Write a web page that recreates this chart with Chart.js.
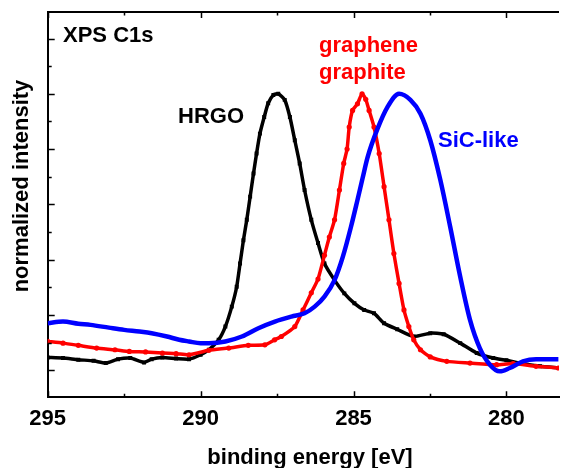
<!DOCTYPE html>
<html>
<head>
<meta charset="utf-8">
<script src="https://cdn.jsdelivr.net/npm/chart.js@4"></script>
<style>
  html, body { margin: 0; padding: 0; background: #fff; }
  #wrap { width: 563px; height: 468px; }
</style>
</head>
<body>
<div id="wrap"><canvas id="chart" width="563" height="468"></canvas></div>
<script>
/**
 * Data (binding energy in eV, intensity normalised so the peaks sit at 5).
 */
const hrgoEnergy = [295, 294.5, 294, 293.5, 293.1, 292.7, 292.3, 291.85, 291.6, 291.25, 290.8, 290.38, 290.0, 289.73, 289.41, 289.19, 288.98, 288.82, 288.71, 288.6, 288.49, 288.38, 288.27, 288.17, 288.06, 287.92, 287.79, 287.62, 287.46, 287.25, 287.08, 286.92, 286.76, 286.6, 286.38, 286.16, 285.95, 285.62, 285.3, 284.97, 284.65, 284.33, 284.0, 283.57, 283.03, 282.49, 282.05, 281.51, 280.97, 280.43, 280.0, 279.5, 278.9, 278.3];
const hrgoIntensity = [0.23, 0.22, 0.19, 0.17, 0.13, 0.2, 0.22, 0.14, 0.2, 0.23, 0.21, 0.2, 0.28, 0.37, 0.55, 0.79, 1.15, 1.51, 1.93, 2.35, 2.72, 3.14, 3.56, 3.92, 4.28, 4.58, 4.83, 4.98, 5.0, 4.89, 4.58, 4.16, 3.74, 3.26, 2.72, 2.30, 1.93, 1.63, 1.39, 1.21, 1.09, 1.03, 0.85, 0.74, 0.61, 0.67, 0.65, 0.49, 0.31, 0.22, 0.18, 0.12, 0.07, 0.04];

const grapheneEnergy = [295, 294.5, 294.0, 293.4, 292.8, 292.33, 291.8, 291.25, 290.8, 290.38, 289.73, 289.08, 288.44, 287.9, 287.58, 287.36, 286.92, 286.65, 286.38, 286.16, 285.95, 285.79, 285.62, 285.46, 285.32, 285.21, 285.14, 285.03, 284.87, 284.72, 284.6, 284.49, 284.33, 284.16, 284.0, 283.84, 283.68, 283.51, 283.35, 283.19, 283.03, 282.81, 282.49, 281.95, 281.19, 280.32, 279.78, 279.03, 278.3];
const grapheneIntensity = [0.52, 0.49, 0.45, 0.40, 0.37, 0.34, 0.33, 0.31, 0.30, 0.28, 0.36, 0.40, 0.45, 0.46, 0.55, 0.61, 0.79, 1.09, 1.40, 1.65, 2.08, 2.41, 2.72, 3.26, 3.74, 4.0, 4.40, 4.70, 4.82, 5.0, 4.9, 4.70, 4.40, 3.92, 3.32, 2.72, 2.11, 1.57, 1.09, 0.79, 0.55, 0.37, 0.24, 0.16, 0.13, 0.10, 0.12, 0.07, 0.04];

const sicEnergy = [295, 294.5, 294.0, 293.6, 293.0, 292.5, 292.0, 291.6, 291.1, 290.7, 290.38, 290.0, 289.73, 289.19, 288.65, 288.11, 287.57, 287.03, 286.6, 286.27, 285.95, 285.62, 285.35, 285.08, 284.87, 284.7, 284.54, 284.22, 283.89, 283.51, 283.14, 282.81, 282.49, 282.16, 281.84, 281.51, 281.19, 280.87, 280.54, 280.22, 279.89, 279.46, 279.03, 278.3];
const sicIntensity = [0.85, 0.88, 0.84, 0.82, 0.77, 0.73, 0.70, 0.67, 0.61, 0.55, 0.52, 0.49, 0.49, 0.52, 0.61, 0.76, 0.88, 0.97, 1.03, 1.15, 1.33, 1.63, 2.05, 2.60, 3.08, 3.48, 3.85, 4.36, 4.76, 5.0, 4.89, 4.64, 4.16, 3.44, 2.60, 1.69, 0.91, 0.40, 0.10, -0.02, 0.04, 0.16, 0.20, 0.20];

const xTickLabels = [295, 290, 285, 280];
const xTickMarks = [295, 292.5, 290, 287.5, 285, 282.5, 280];
const yTickMarks = [0, 0.5, 1, 1.5, 2, 2.5, 3, 3.5, 4, 4.5, 5, 5.5, 6];

const FONT = '"Liberation Sans", Arial, sans-serif';

/**
 * Zip two arrays into Chart.js points.
 */
const toPoints = (xs, ys) => xs.map((x, i) => ({ x, y: ys[i] }));

/**
 * Frame, inward ticks, axis titles and labels.
 */
const framePlugin = {
  id: 'frame',
  afterDraw(chart) {
    const { ctx, chartArea: area, scales } = chart;
    const x = scales.x;
    const y = scales.y;
    ctx.save();
    ctx.strokeStyle = '#000';
    ctx.lineWidth = 2;

    // top line
    ctx.beginPath();
    ctx.moveTo(area.left, area.top);
    ctx.lineTo(area.right, area.top);
    ctx.stroke();

    // x ticks (bottom and top, pointing inside)
    ctx.lineWidth = 1.5;
    xTickMarks.forEach((v) => {
      const px = Math.round(x.getPixelForValue(v)) + 0.5;
      const len = v % 5 === 0 ? 6 : 3.5;
      ctx.beginPath();
      ctx.moveTo(px, area.bottom);
      ctx.lineTo(px, area.bottom - len);
      ctx.moveTo(px, area.top);
      ctx.lineTo(px, area.top + len);
      ctx.stroke();
    });

    // y ticks (left, pointing inside)
    yTickMarks.forEach((v) => {
      const py = Math.round(y.getPixelForValue(v)) + 0.5;
      const len = Number.isInteger(v) ? 7 : 4;
      ctx.beginPath();
      ctx.moveTo(area.left, py);
      ctx.lineTo(area.left + len, py);
      ctx.stroke();
    });

    // texts
    ctx.font = `bold 22px ${FONT}`;
    ctx.textBaseline = 'alphabetic';
    ctx.textAlign = 'left';
    ctx.fillStyle = '#000';
    ctx.fillText('XPS C1s', 63, 42);
    ctx.fillText('HRGO', 178, 122.5);
    ctx.fillStyle = '#ff0000';
    ctx.fillText('graphene', 319, 52);
    ctx.fillText('graphite', 319, 79);
    ctx.fillStyle = '#0000ff';
    ctx.fillText('SiC-like', 438, 147);

    ctx.fillStyle = '#000';
    ctx.textAlign = 'center';
    ctx.fillText('binding energy [eV]', 310, 464);

    ctx.translate(28, 186);
    ctx.rotate(-Math.PI / 2);
    ctx.fillText('normalized intensity', 0, 0);
    ctx.restore();
  },
};

new Chart(document.getElementById('chart'), {
  type: 'line',
  data: {
    datasets: [
      {
        label: 'SiC-like',
        data: toPoints(sicEnergy, sicIntensity),
        borderColor: '#0000ff',
        backgroundColor: '#0000ff',
        borderWidth: 4.5,
        pointRadius: 0,
        cubicInterpolationMode: 'monotone',
        order: 1,
      },
      {
        label: 'graphene graphite',
        data: toPoints(grapheneEnergy, grapheneIntensity),
        borderColor: '#ff0000',
        backgroundColor: '#ff0000',
        borderWidth: 3.5,
        pointRadius: 2.6,
        pointBorderWidth: 0,
        pointStyle: 'circle',
        tension: 0.2,
        order: 2,
      },
      {
        label: 'HRGO',
        data: toPoints(hrgoEnergy, hrgoIntensity),
        borderColor: '#000',
        backgroundColor: '#000',
        borderWidth: 3.5,
        pointRadius: 2.8,
        pointBorderWidth: 0,
        pointStyle: 'rect',
        tension: 0.2,
        order: 3,
      },
    ],
  },
  options: {
    responsive: false,
    animation: false,
    layout: { padding: { top: 12, right: 0, left: 0, bottom: 0 } },
    plugins: {
      legend: { display: false },
      tooltip: { enabled: false },
    },
    scales: {
      x: {
        type: 'linear',
        reverse: true,
        min: 278.28,
        max: 295,
        grid: { display: false, drawTicks: false },
        border: { display: true, color: '#000', width: 2 },
        afterBuildTicks: (scale) => {
          scale.ticks = xTickLabels.map((v) => ({ value: v }));
        },
        afterFit: (scale) => {
          scale.height = 70.7;
        },
        ticks: {
          color: '#000',
          padding: 8,
          maxRotation: 0,
          autoSkip: false,
          font: { family: FONT, size: 22, weight: 'bold' },
        },
      },
      y: {
        type: 'linear',
        min: -0.49,
        max: 6.48,
        grid: { display: false, drawTicks: false },
        border: { display: true, color: '#000', width: 2 },
        ticks: { display: false },
        afterFit: (scale) => {
          scale.width = 47.7;
        },
      },
    },
  },
  plugins: [framePlugin],
});
</script>
</body>
</html>
